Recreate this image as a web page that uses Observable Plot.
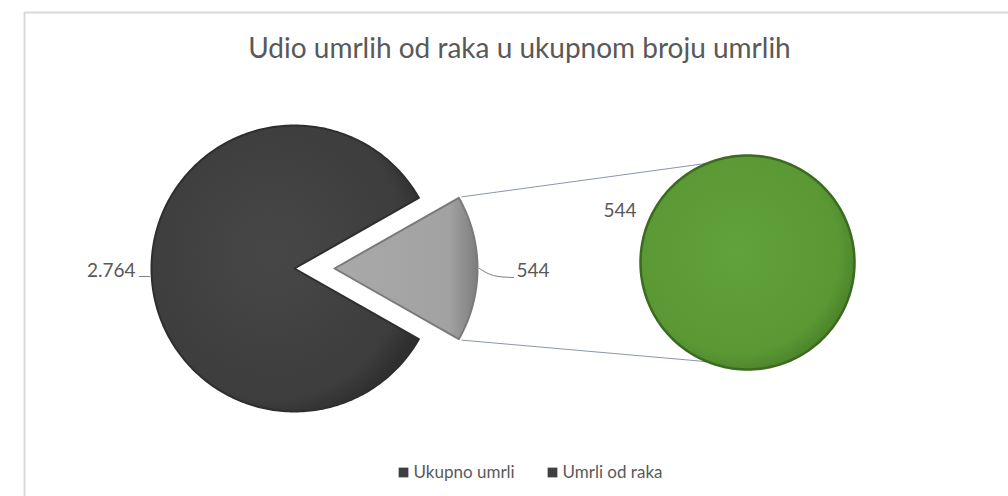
<!DOCTYPE html>
<html>
<head>
<meta charset="utf-8">
<script src="https://cdn.jsdelivr.net/npm/d3@7"></script>
<script src="https://cdn.jsdelivr.net/npm/@observablehq/plot@0.6"></script>
<style>
  html, body { margin: 0; padding: 0; background: #fff; }
  #chart svg { display: block; }
</style>
</head>
<body>
<div id="chart"></div>
<script>
// ---- data ----
const title = "Udio umrlih od raka u ukupnom broju umrlih";
const categories = ["Ukupno umrli", "Umrli od raka"];
const values = [2764, 544];
const valueLabels = ["2.764", "544"];
const secondCategories = ["Umrli od raka"];
const secondValues = [544];
const secondLabels = ["544"];

// ---- layout (pixel space) ----
const W = 1008, H = 496;
const main = {cx: 294, cy: 268, r: 143, explode: 40};
const second = {cx: 747, cy: 262, r: 107};

const pt = (cx, cy, r, a) => [cx + r * Math.sin(a), cy - r * Math.cos(a)];
function arcPoly(cx, cy, r, a0, a1, withCenter = true) {
  const n = Math.max(8, Math.ceil(Math.abs(a1 - a0) / (Math.PI / 180)));
  const out = withCenter ? [[cx, cy]] : [];
  for (let i = 0; i <= n; i++) out.push(pt(cx, cy, r, a0 + (a1 - a0) * i / n));
  return out;
}

const total = d3.sum(values);
const theta = 2 * Math.PI * values[1] / total;
const arcs = d3.pie().sort(null)
  .startAngle(Math.PI / 2 + theta / 2)
  .endAngle(Math.PI / 2 + theta / 2 + 2 * Math.PI)(values);

const slices = [];
arcs.forEach((a, i) => {
  const mid = (a.startAngle + a.endAngle) / 2;
  const off = i === 1 ? main.explode : 0;
  const cx = main.cx + off * Math.sin(mid), cy = main.cy - off * Math.cos(mid);
  arcPoly(cx, cy, main.r, a.startAngle, a.endAngle).forEach(([x, y]) =>
    slices.push({x, y, k: categories[i]}));
});
const lightArc = arcs[1];
const lcx = main.cx + main.explode, lcy = main.cy;
// in clockwise-from-north angles, the slice's start edge is the upper one
const cornerTop = pt(lcx, lcy, main.r, lightArc.startAngle);
const cornerBot = pt(lcx, lcy, main.r, lightArc.endAngle);

// second pie (100% of the split slice)
const arcs2 = d3.pie().sort(null)(secondValues);
const circle = [];
arcs2.forEach((a, i) => arcPoly(second.cx, second.cy, second.r, a.startAngle, a.endAngle, false)
  .forEach(([x, y]) => circle.push({x, y, k: secondCategories[i]})));

const tA = 22 * Math.PI / 180;
const endTop = pt(second.cx, second.cy, second.r, -tA);
const endBot = pt(second.cx, second.cy, second.r, Math.PI + tA);
const connectors = [
  {x: cornerTop[0] + 3, y: cornerTop[1] - 1, g: "t"}, {x: endTop[0], y: endTop[1], g: "t"},
  {x: cornerBot[0] + 3, y: cornerBot[1] + 1, g: "b"}, {x: endBot[0], y: endBot[1], g: "b"}
];

// label leaders
const eastPt = pt(lcx, lcy, main.r, Math.PI / 2);
const westPt = pt(main.cx, main.cy, main.r, 3 * Math.PI / 2);
const leader1 = [{x: westPt[0] - 12, y: westPt[1] + 8}, {x: westPt[0] - 2, y: westPt[1] + 8}];
const leader2 = [{x: eastPt[0] + 2, y: eastPt[1]}, {x: eastPt[0] + 16, y: eastPt[1] + 7}, {x: eastPt[0] + 36, y: eastPt[1] + 9}];

const labelLeft = [{x: westPt[0] - 16, y: westPt[1] + 2, t: valueLabels[0]}];
const labelRight = [
  {x: eastPt[0] + 39, y: eastPt[1] + 2, t: valueLabels[1]},
  {x: second.cx - 144, y: second.cy - 52, t: secondLabels[0]}
];

const legend = [
  {x: 413, y: 472, t: categories[0]},
  {x: 562, y: 472, t: categories[1]}
];

const font = "Lato, 'Open Sans', sans-serif";
const textGray = "#595959";

const chart = Plot.plot({
  width: W, height: H, margin: 0,
  x: {domain: [0, W], range: [0, W], axis: null},
  y: {domain: [0, H], range: [0, H], axis: null},
  style: {fontFamily: font, background: "#fff"},
  marks: [
    // chart frame
    Plot.ruleX([24], {y1: 12, y2: H, stroke: "#d9d9d9", strokeWidth: 2}),
    Plot.ruleY([12], {x1: 24, x2: W, stroke: "#d9d9d9", strokeWidth: 2}),
    // connector lines
    Plot.line(connectors, {x: "x", y: "y", z: "g", stroke: "#8a96a8", strokeWidth: 1}),
    // main pie slices
    Plot.line(slices, {x: "x", y: "y", z: "k", curve: "linear-closed",
      fill: d => d.k === categories[0] ? "url(#gDark)" : "url(#gLight)",
      stroke: d => d.k === categories[0] ? "#2e2e2e" : "#7a7a7a",
      strokeWidth: 2, strokeLinejoin: "round"}),
    // second pie
    Plot.line(circle, {x: "x", y: "y", z: "k", curve: "linear-closed",
      fill: "url(#gGreen)", stroke: "#3b6a20", strokeWidth: 2.5}),
    // leaders
    Plot.line(leader1, {x: "x", y: "y", stroke: "#7f7f7f", strokeWidth: 1}),
    Plot.line(leader2, {x: "x", y: "y", stroke: "#7f7f7f", strokeWidth: 1, curve: "natural"}),
    // labels
    Plot.text(labelLeft, {x: "x", y: "y", text: "t", textAnchor: "end", fontSize: 19, fill: textGray, fontFamily: font}),
    Plot.text(labelRight, {x: "x", y: "y", text: "t", textAnchor: "start", fontSize: 19, fill: textGray, fontFamily: font}),
    // title
    Plot.text([title], {x: 519, y: 49, text: d => d, fontSize: 28, fill: textGray, fontFamily: font}),
    // legend
    Plot.dot(legend, {x: d => d.x - 10, y: "y", symbol: "square", r: 5.5, fill: "#3f3f3f"}),
    Plot.text(legend, {x: "x", y: "y", text: "t", textAnchor: "start", fontSize: 17, fill: textGray, fontFamily: font})
  ]
});

const defs = d3.create("svg:defs");
const gDark = defs.append("radialGradient").attr("id", "gDark").attr("cx", "45%").attr("cy", "45%").attr("r", "60%");
gDark.append("stop").attr("offset", "0%").attr("stop-color", "#474747");
gDark.append("stop").attr("offset", "85%").attr("stop-color", "#3d3d3d");
gDark.append("stop").attr("offset", "100%").attr("stop-color", "#2f2f2f");
const gLight = defs.append("linearGradient").attr("id", "gLight").attr("x1", "0").attr("x2", "1").attr("y1", "0").attr("y2", "0");
gLight.append("stop").attr("offset", "0%").attr("stop-color", "#a9a9a9");
gLight.append("stop").attr("offset", "80%").attr("stop-color", "#a2a2a2");
gLight.append("stop").attr("offset", "100%").attr("stop-color", "#7d7d7d");
const gGreen = defs.append("radialGradient").attr("id", "gGreen").attr("cx", "45%").attr("cy", "45%").attr("r", "60%");
gGreen.append("stop").attr("offset", "0%").attr("stop-color", "#62a23a");
gGreen.append("stop").attr("offset", "80%").attr("stop-color", "#5a9834");
gGreen.append("stop").attr("offset", "100%").attr("stop-color", "#467c27");
chart.insertBefore(defs.node(), chart.firstChild);

document.getElementById("chart").appendChild(chart);
</script>
</body>
</html>
